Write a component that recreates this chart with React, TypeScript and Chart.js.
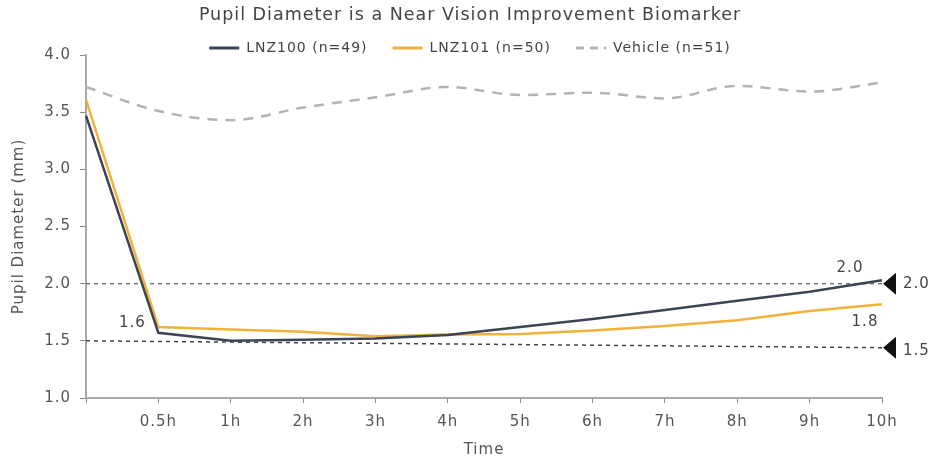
import React, { useEffect, useRef } from 'react';
import { Chart, registerables } from 'chart.js';

Chart.register(...registerables);

const categories = ['', '0.5h', '1h', '2h', '3h', '4h', '5h', '6h', '7h', '8h', '9h', '10h'];
const lnz100 = [3.47, 1.57, 1.5, 1.51, 1.52, 1.55, 1.62, 1.69, 1.77, 1.85, 1.93, 2.03];
const lnz101 = [3.61, 1.62, 1.6, 1.58, 1.54, 1.555, 1.56, 1.59, 1.63, 1.68, 1.76, 1.82];
const vehicle = [3.72, 3.51, 3.43, 3.54, 3.63, 3.72, 3.65, 3.67, 3.62, 3.73, 3.68, 3.76];
const refHigh = [2.0, null, null, null, null, null, null, null, null, null, null, 2.0];
const refLow = [1.5, null, null, null, null, null, null, null, null, null, null, 1.44];
const seriesNames = ['LNZ100 (n=49)', 'LNZ101 (n=50)', 'Vehicle (n=51)'];
const markerLabels = ['2.0', '1.5'];
const calloutTexts = ['1.6', '2.0', '1.8'];
const calloutSeries = [0, 0, 1];
const calloutIndex = [1, 11, 11];

const FONT = "'DejaVu Sans', sans-serif";
const SPACING = '1px';

export default function App() {
  const ref = useRef<HTMLCanvasElement | null>(null);

  useEffect(() => {
    document.body.style.margin = '0';
    const canvas = ref.current;
    if (!canvas) return;

    const styleFix = {
      id: 'styleFix',
      beforeLayout(chart: any) {
        const lg = chart.legend;
        if (lg && !lg.__patched) {
          const orig = lg.fit.bind(lg);
          lg.fit = function () {
            orig();
            this.height = Math.max(0, this.height - 10);
          };
          lg.__patched = true;
        }
        (chart.ctx as any).letterSpacing = SPACING;
      },
      beforeDraw(chart: any) {
        (chart.ctx as any).letterSpacing = SPACING;
      },
    };

    const annotations = {
      id: 'annotations',
      afterDatasetsDraw(chart: any) {
        const ctx = chart.ctx;
        const xs = chart.scales.x;
        const ys = chart.scales.y;
        ctx.save();
        const xEnd = xs.getPixelForValue(11);
        const markerVals = [refHigh[11] as number, refLow[11] as number];
        markerVals.forEach((v, i) => {
          const y = ys.getPixelForValue(v);
          const x0 = xEnd + 1;
          ctx.fillStyle = '#111111';
          ctx.beginPath();
          ctx.moveTo(x0, y);
          ctx.lineTo(x0 + 13, y - 11);
          ctx.lineTo(x0 + 13, y + 11);
          ctx.closePath();
          ctx.fill();
          ctx.fillStyle = '#444444';
          ctx.font = `15px ${FONT}`;
          ctx.textAlign = 'left';
          ctx.textBaseline = 'middle';
          ctx.fillText(markerLabels[i], x0 + 20, y + (i === 1 ? 3 : 0));
        });
        const offsets = [
          [-26, -10],
          [-32, -12],
          [-17, 18],
        ];
        const seriesData = [lnz100, lnz101];
        calloutTexts.forEach((t, i) => {
          const idx = calloutIndex[i];
          const px = xs.getPixelForValue(idx);
          const py = ys.getPixelForValue(seriesData[calloutSeries[i]][idx]);
          ctx.fillStyle = '#444444';
          ctx.font = `15px ${FONT}`;
          ctx.textAlign = 'center';
          ctx.textBaseline = 'middle';
          ctx.fillText(t, px + offsets[i][0], py + offsets[i][1]);
        });
        ctx.restore();
      },
    };

    const chart = new Chart(canvas, {
      type: 'line',
      data: {
        labels: categories,
        datasets: [
          {
            label: seriesNames[0],
            data: lnz100,
            borderColor: '#3b4355',
            backgroundColor: '#3b4355',
            borderWidth: 2.5,
            pointRadius: 0,
            tension: 0,
          },
          {
            label: seriesNames[1],
            data: lnz101,
            borderColor: '#f0b23a',
            backgroundColor: '#f0b23a',
            borderWidth: 2.5,
            pointRadius: 0,
            tension: 0,
          },
          {
            label: seriesNames[2],
            data: vehicle,
            borderColor: '#b3b3b3',
            backgroundColor: '#b3b3b3',
            borderWidth: 2.5,
            borderDash: [10, 8],
            pointRadius: 0,
            cubicInterpolationMode: 'monotone',
          },
          {
            label: 'ref2',
            data: refHigh,
            borderColor: '#777777',
            borderWidth: 1.5,
            borderDash: [4, 4],
            pointRadius: 0,
            spanGaps: true,
          },
          {
            label: 'ref15',
            data: refLow,
            borderColor: '#444444',
            borderWidth: 1.5,
            borderDash: [4, 4],
            pointRadius: 0,
            spanGaps: true,
          },
        ] as any,
      },
      options: {
        animation: false,
        responsive: true,
        maintainAspectRatio: false,
        layout: { padding: { left: 10, right: 0, top: 0, bottom: 0 } },
        plugins: {
          tooltip: { enabled: false },
          title: {
            display: true,
            text: 'Pupil Diameter is a Near Vision Improvement Biomarker',
            color: '#444444',
            font: { family: FONT, size: 17.5, weight: 'normal' },
            padding: { top: 5, bottom: -10 },
          },
          legend: {
            display: true,
            labels: {
              usePointStyle: true,
              pointStyleWidth: 30,
              boxHeight: 14,
              padding: 25,
              color: '#444444',
              font: { family: FONT, size: 14 },
              generateLabels: (ch: any) =>
                ch.data.datasets.slice(0, 3).map((ds: any, i: number) => ({
                  text: ds.label,
                  fillStyle: ds.borderColor,
                  strokeStyle: ds.borderColor,
                  lineWidth: 3,
                  lineDash: i === 2 ? [8, 6] : [],
                  pointStyle: 'line',
                  hidden: false,
                  datasetIndex: i,
                  fontColor: '#444444',
                })),
            },
          },
        },
        scales: {
          x: {
            type: 'category',
            offset: false,
            afterFit: (s: any) => {
              s.height = 63;
            },
            grid: {
              display: true,
              drawOnChartArea: false,
              drawTicks: true,
              tickLength: 5,
              color: '#888888',
            },
            border: { display: true, color: '#a8a8a8', width: 2 },
            ticks: {
              color: '#555555',
              font: { family: FONT, size: 15 },
              padding: 10,
              maxRotation: 0,
              autoSkip: false,
            },
            title: {
              display: true,
              text: 'Time',
              color: '#555555',
              font: { family: FONT, size: 15 },
              padding: { top: 0, bottom: 2 },
            },
          },
          y: {
            min: 1,
            max: 4,
            afterFit: (s: any) => {
              s.width = 76;
            },
            grid: {
              display: true,
              drawOnChartArea: false,
              drawTicks: true,
              tickLength: 6,
              color: '#888888',
            },
            border: { display: true, color: '#a8a8a8', width: 2 },
            ticks: {
              stepSize: 0.5,
              color: '#555555',
              font: { family: FONT, size: 15 },
              padding: 9,
              callback: (v: any) => Number(v).toFixed(1),
            },
            title: {
              display: true,
              text: 'Pupil Diameter (mm)',
              color: '#555555',
              font: { family: FONT, size: 15 },
              padding: { top: 0, bottom: 0 },
            },
          },
          y2: {
            position: 'right',
            display: true,
            min: 1,
            max: 4,
            afterFit: (s: any) => {
              s.width = 48;
            },
            grid: { display: false, drawTicks: false },
            border: { display: false },
            ticks: { display: false },
          },
        },
      } as any,
      plugins: [styleFix, annotations],
    });

    return () => {
      chart.destroy();
    };
  }, []);

  return (
    <div style={{ position: 'absolute', left: 0, top: 0, width: 930, height: 461 }}>
      <canvas ref={ref} />
    </div>
  );
}
